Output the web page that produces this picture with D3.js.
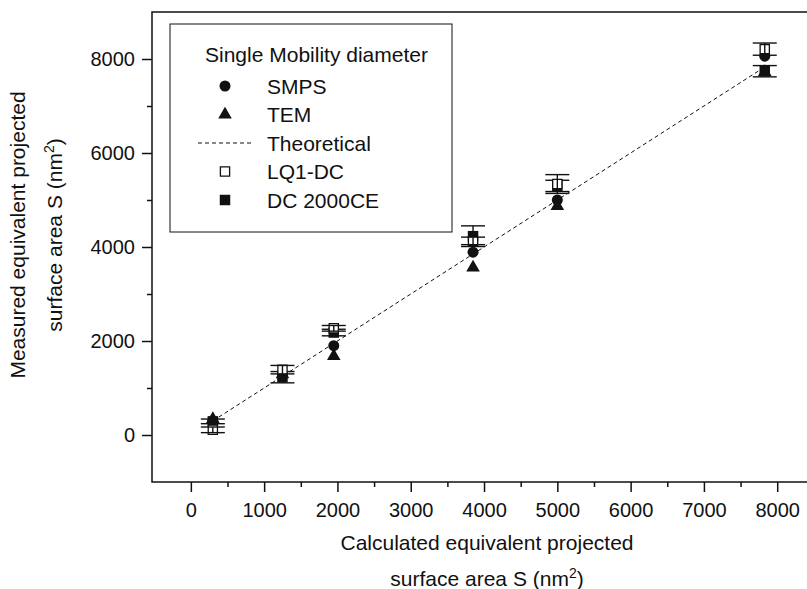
<!DOCTYPE html>
<html>
<head>
<meta charset="utf-8">
<script src="https://cdn.jsdelivr.net/npm/d3@7"></script>
<style>
  body { margin: 0; background: #fff; }
  text { font-family: "Liberation Sans", Arial, sans-serif; fill: #111; }
</style>
</head>
<body>
<svg id="chart" width="807" height="589"></svg>
<script>
// calculated surface area (x) for each size class
var calcArea = [300, 1250, 1950, 3850, 5000, 7830];
// measured values
var smps = [300, 1250, 1900, 3890, 5000, 8060];
var tem = [340, 1290, 1680, 3560, 4870, 7720];
var lq1 = [110, 1390, 2270, 4130, 5340, 8210];
var lq1Err = [60, 90, 60, 80, 200, 130];
var dc2000 = [290, 1230, 2180, 4230, 5300, 7740];
var dc2000Err = [50, 120, 70, 220, 120, 120];
// theoretical line S = S
var theoX = [300, 7830];

var xMajor = [0, 1000, 2000, 3000, 4000, 5000, 6000, 7000, 8000];
var xMinor = [500, 1500, 2500, 3500, 4500, 5500, 6500, 7500];
var yMajor = [0, 2000, 4000, 6000, 8000];
var yMinor = [1000, 3000, 5000, 7000];

var svg = d3.select("#chart");
var pLeft = 152, pRight = 808, pTop = 12, pBottom = 482;

var x = d3.scaleLinear().domain([-530, 8420]).range([pLeft, pRight]);
var y = d3.scaleLinear().domain([-1000, 9000]).range([pBottom, pTop]);

svg.append("rect").attr("width", 807).attr("height", 589).attr("fill", "#fff");

// frame
svg.append("rect")
  .attr("x", pLeft).attr("y", pTop)
  .attr("width", pRight - pLeft).attr("height", pBottom - pTop)
  .attr("fill", "none").attr("stroke", "#111").attr("stroke-width", 1.5);

// axes
function styleAxis(g) {
  g.select(".domain").remove();
  g.selectAll(".tick line").attr("stroke", "#111").attr("stroke-width", 1.5);
  g.selectAll(".tick text").style("font-size", "20px").attr("fill", "#111");
}

svg.append("g").attr("transform", "translate(0," + pBottom + ")")
  .call(d3.axisBottom(x).tickValues(xMajor).tickSize(10).tickPadding(11).tickFormat(d3.format("d")))
  .call(styleAxis);
svg.append("g").attr("transform", "translate(0," + pBottom + ")")
  .call(d3.axisBottom(x).tickValues(xMinor).tickSize(5).tickFormat(""))
  .call(styleAxis);
svg.append("g").attr("transform", "translate(" + pLeft + ",0)")
  .call(d3.axisLeft(y).tickValues(yMajor).tickSize(10).tickPadding(7).tickFormat(d3.format("d")))
  .call(styleAxis);
svg.append("g").attr("transform", "translate(" + pLeft + ",0)")
  .call(d3.axisLeft(y).tickValues(yMinor).tickSize(5).tickFormat(""))
  .call(styleAxis);

// axis titles
function labelWithSup(g, pre, sup, post) {
  g.append("tspan").text(pre);
  g.append("tspan").attr("baseline-shift", "super").style("font-size", "14px").text(sup);
  g.append("tspan").text(post);
}
var xl = svg.append("g").attr("transform", "translate(487,0)");
xl.append("text").attr("y", 550).attr("text-anchor", "middle").style("font-size", "21px")
  .text("Calculated equivalent projected");
labelWithSup(xl.append("text").attr("y", 586).attr("text-anchor", "middle").style("font-size", "21px"),
  "surface area S (nm", "2", ")");

var yl = svg.append("g").attr("transform", "translate(0,235) rotate(-90)");
yl.append("text").attr("y", 25).attr("text-anchor", "middle").style("font-size", "21px")
  .text("Measured equivalent projected");
labelWithSup(yl.append("text").attr("y", 62).attr("text-anchor", "middle").style("font-size", "21px"),
  "surface area S (nm", "2", ")");

// theoretical line
svg.append("line")
  .attr("x1", x(theoX[0])).attr("y1", y(theoX[0]))
  .attr("x2", x(theoX[1])).attr("y2", y(theoX[1]))
  .attr("stroke", "#111").attr("stroke-width", 1).attr("stroke-dasharray", "4,3");

var circle = d3.symbol().type(d3.symbolCircle).size(95);
var triangle = d3.symbol().type(d3.symbolTriangle).size(80);
var square = d3.symbol().type(d3.symbolSquare).size(110);
var squareOpen = d3.symbol().type(d3.symbolSquare).size(85);

function errorBars(vals, errs) {
  var g = svg.append("g").attr("stroke", "#111").attr("stroke-width", 1.4);
  calcArea.forEach(function(c, i) {
    var cx = x(c);
    g.append("line").attr("x1", cx).attr("x2", cx)
      .attr("y1", y(vals[i] - errs[i])).attr("y2", y(vals[i] + errs[i]));
    [vals[i] - errs[i], vals[i] + errs[i]].forEach(function(v) {
      g.append("line").attr("x1", cx - 12).attr("x2", cx + 12)
        .attr("y1", y(v)).attr("y2", y(v));
    });
  });
}

function points(vals, sym, fill) {
  svg.append("g").selectAll("path").data(vals).join("path")
    .attr("transform", function(d, i) { return "translate(" + x(calcArea[i]) + "," + y(d) + ")"; })
    .attr("d", sym)
    .attr("fill", fill)
    .attr("stroke", "#111").attr("stroke-width", fill == "#fff" ? 1.3 : 0);
}

errorBars(dc2000, dc2000Err);
points(dc2000, square, "#111");
points(smps, circle, "#111");
points(tem, triangle, "#111");
points(lq1, squareOpen, "#fff");
errorBars(lq1, lq1Err);

// legend
var lg = svg.append("g");
lg.append("rect").attr("x", 170).attr("y", 24).attr("width", 282).attr("height", 208)
  .attr("fill", "#fff").attr("stroke", "#111").attr("stroke-width", 1);
lg.append("text").attr("x", 205).attr("y", 62).style("font-size", "21px").text("Single Mobility diameter");
var items = [
  {name: "SMPS", sym: circle, fill: "#111"},
  {name: "TEM", sym: triangle, fill: "#111"},
  {name: "Theoretical", sym: null},
  {name: "LQ1-DC", sym: squareOpen, fill: "#fff"},
  {name: "DC 2000CE", sym: square, fill: "#111"}
];
items.forEach(function(it, i) {
  var cy = 86 + i * 28.5;
  if (it.sym) {
    lg.append("path").attr("transform", "translate(225," + cy + ")")
      .attr("d", it.sym).attr("fill", it.fill)
      .attr("stroke", "#111").attr("stroke-width", it.fill == "#fff" ? 1.3 : 0);
  } else {
    lg.append("line").attr("x1", 198).attr("x2", 252).attr("y1", cy).attr("y2", cy)
      .attr("stroke", "#111").attr("stroke-width", 1).attr("stroke-dasharray", "4,3");
  }
  lg.append("text").attr("x", 267).attr("y", cy + 7.5).style("font-size", "21px").text(it.name);
});
</script>
</body>
</html>
